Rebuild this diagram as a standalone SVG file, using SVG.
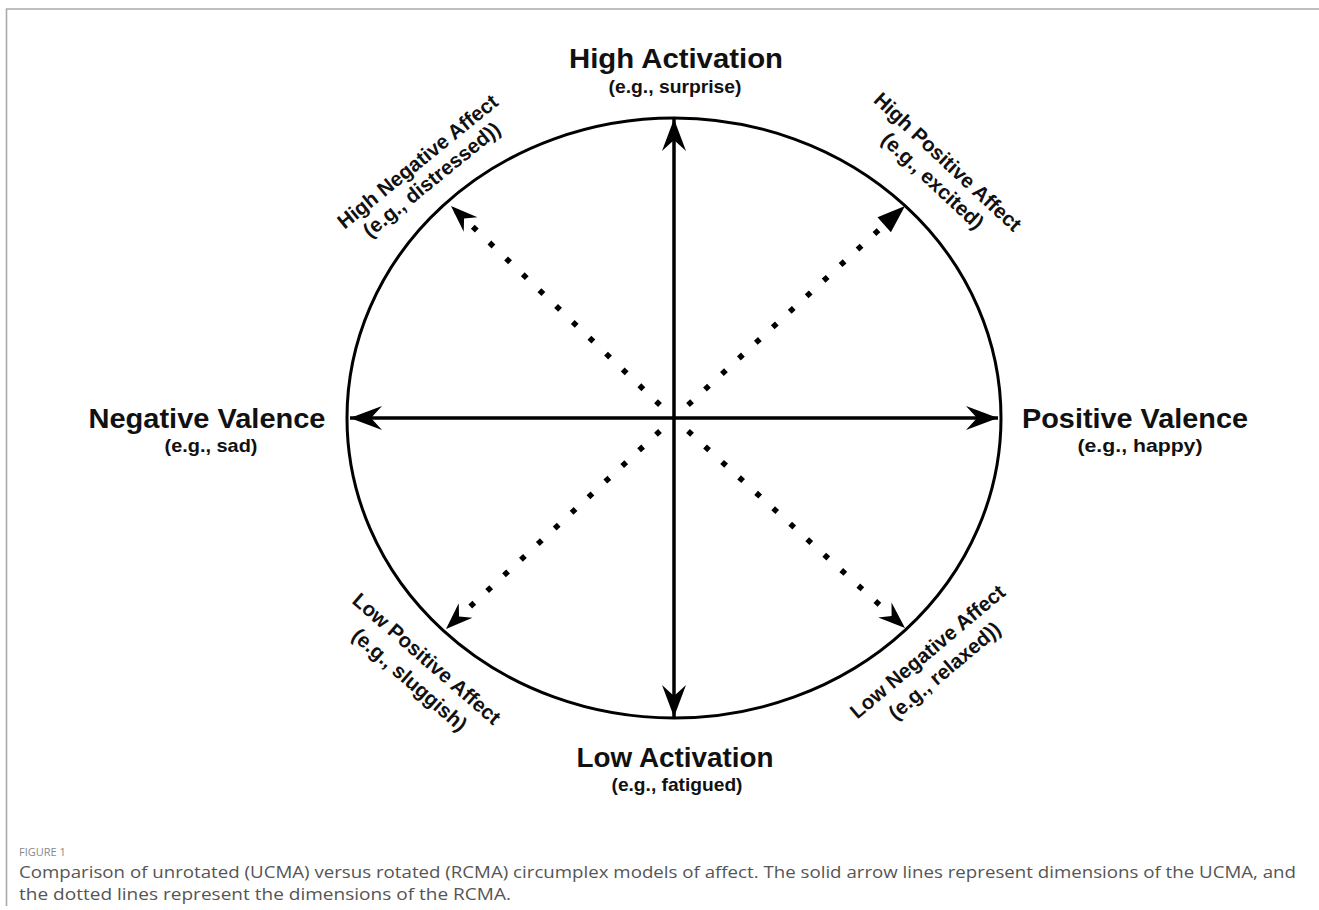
<svg xmlns="http://www.w3.org/2000/svg" width="1319" height="910" viewBox="0 0 1319 910">
  <style>
    .frame { stroke: #aaaaaa; stroke-width: 1.6; fill: none; }
    .ring { stroke: #000; stroke-width: 3; fill: none; }
    .axis { stroke: #000; stroke-width: 3.5; fill: none; }
    .dots { stroke: #000; stroke-width: 5.5; stroke-dasharray: 5.5 17.5; fill: none; }
    .title { font-family: "Liberation Sans", Arial, sans-serif; font-weight: bold; font-size: 28px; fill: #111; text-anchor: middle; }
    .sub { font-family: "Liberation Sans", Arial, sans-serif; font-weight: bold; font-size: 18.5px; fill: #111; text-anchor: middle; }
    .diag { font-family: "Liberation Sans", Arial, sans-serif; font-weight: bold; font-size: 20.5px; fill: #111; text-anchor: middle; }
    .fig { font-family: "Open Sans", "Noto Sans", sans-serif; font-size: 11px; fill: #888; }
    .cap { font-family: "Open Sans", "Noto Sans", sans-serif; font-size: 15.5px; fill: #555; }
  </style>
  <defs>
    <!-- concave heads for the solid axes -->
    <marker id="axisHead" markerUnits="userSpaceOnUse" viewBox="-34 -14 36 28" refX="0" refY="0" markerWidth="36" markerHeight="28" orient="auto">
      <path d="M0,0 L-32,-12 L-21,0 L-32,12 Z" fill="#000"/>
    </marker>
    <!-- concave head for rotated dimensions -->
    <marker id="diagHead" markerUnits="userSpaceOnUse" viewBox="-30 -12 32 24" refX="0" refY="0" markerWidth="32" markerHeight="24" orient="auto">
      <path d="M0,0 L-27,-10 L-18,0 L-27,10 Z" fill="#000"/>
    </marker>
    <!-- plain triangular head -->
    <marker id="triHead" markerUnits="userSpaceOnUse" viewBox="-30 -12 32 24" refX="0" refY="0" markerWidth="32" markerHeight="24" orient="auto">
      <path d="M0,0 L-28,-10 L-28,10 Z" fill="#000"/>
    </marker>
  </defs>

  <rect width="1319" height="910" fill="#fff"/>
  <path class="frame" d="M6.5,906 L6.5,9 L1319,9"/>

  <g id="circumplex">
    <ellipse class="ring" cx="674" cy="418" rx="327" ry="300"/>
  </g>

  <g id="connectors">
    <!-- unrotated dimensions -->
    <line class="axis" x1="674" y1="418" x2="674" y2="119" marker-end="url(#axisHead)"/>
    <line class="axis" x1="674" y1="418" x2="674" y2="717" marker-end="url(#axisHead)"/>
    <line class="axis" x1="674" y1="418" x2="350" y2="418" marker-end="url(#axisHead)"/>
    <line class="axis" x1="674" y1="418" x2="998" y2="418" marker-end="url(#axisHead)"/>
    <!-- rotated dimensions -->
    <line class="dots" x1="660" y1="405" x2="451" y2="206"/>
    <path d="M470,224 L451,206" stroke="none" fill="none" marker-end="url(#diagHead)"/>
    <line class="dots" x1="688" y1="405" x2="905" y2="206"/>
    <path d="M885,224 L905,206" stroke="none" fill="none" marker-end="url(#triHead)"/>
    <line class="dots" x1="660" y1="431" x2="446" y2="629"/>
    <path d="M465,611 L446,629" stroke="none" fill="none" marker-end="url(#diagHead)"/>
    <line class="dots" x1="688" y1="431" x2="905" y2="628"/>
    <path d="M886,611 L905,628" stroke="none" fill="none" marker-end="url(#diagHead)"/>
  </g>

  <g id="high-activation">
    <text class="title" x="676" y="68" textLength="214" lengthAdjust="spacingAndGlyphs">High Activation</text>
    <text class="sub" x="675" y="93" textLength="133" lengthAdjust="spacingAndGlyphs">(e.g., surprise)</text>
  </g>
  <g id="low-activation">
    <text class="title" x="675" y="767" textLength="197" lengthAdjust="spacingAndGlyphs">Low Activation</text>
    <text class="sub" x="677" y="791" textLength="131" lengthAdjust="spacingAndGlyphs">(e.g., fatigued)</text>
  </g>
  <g id="negative-valence">
    <text class="title" x="207" y="428" textLength="237" lengthAdjust="spacingAndGlyphs">Negative Valence</text>
    <text class="sub" x="211" y="452" textLength="93" lengthAdjust="spacingAndGlyphs">(e.g., sad)</text>
  </g>
  <g id="positive-valence">
    <text class="title" x="1135" y="428" textLength="226" lengthAdjust="spacingAndGlyphs">Positive Valence</text>
    <text class="sub" x="1140" y="452" textLength="125" lengthAdjust="spacingAndGlyphs">(e.g., happy)</text>
  </g>

  <g id="high-negative-affect">
    <text class="diag" transform="translate(422,167) rotate(-39)">High Negative Affect</text>
    <text class="diag" transform="translate(436,185) rotate(-39)">(e.g., distressed))</text>
  </g>
  <g id="high-positive-affect">
    <text class="diag" transform="translate(943,167) rotate(43)">High Positive Affect</text>
    <text class="diag" transform="translate(928,186) rotate(43)">(e.g., excited)</text>
  </g>
  <g id="low-positive-affect">
    <text class="diag" transform="translate(422,664) rotate(41)">Low Positive Affect</text>
    <text class="diag" transform="translate(405,685) rotate(41)">(e.g., sluggish)</text>
  </g>
  <g id="low-negative-affect">
    <text class="diag" transform="translate(932,657) rotate(-40)">Low Negative Affect</text>
    <text class="diag" transform="translate(949,676) rotate(-40)">(e.g., relaxed))</text>
  </g>

  <g id="caption">
    <text class="fig" x="19" y="856">FIGURE 1</text>
    <text class="cap" x="19" y="878" textLength="1277" lengthAdjust="spacingAndGlyphs">Comparison of unrotated (UCMA) versus rotated (RCMA) circumplex models of affect. The solid arrow lines represent dimensions of the UCMA, and</text>
    <text class="cap" x="19" y="900" textLength="492" lengthAdjust="spacingAndGlyphs">the dotted lines represent the dimensions of the RCMA.</text>
  </g>
</svg>
